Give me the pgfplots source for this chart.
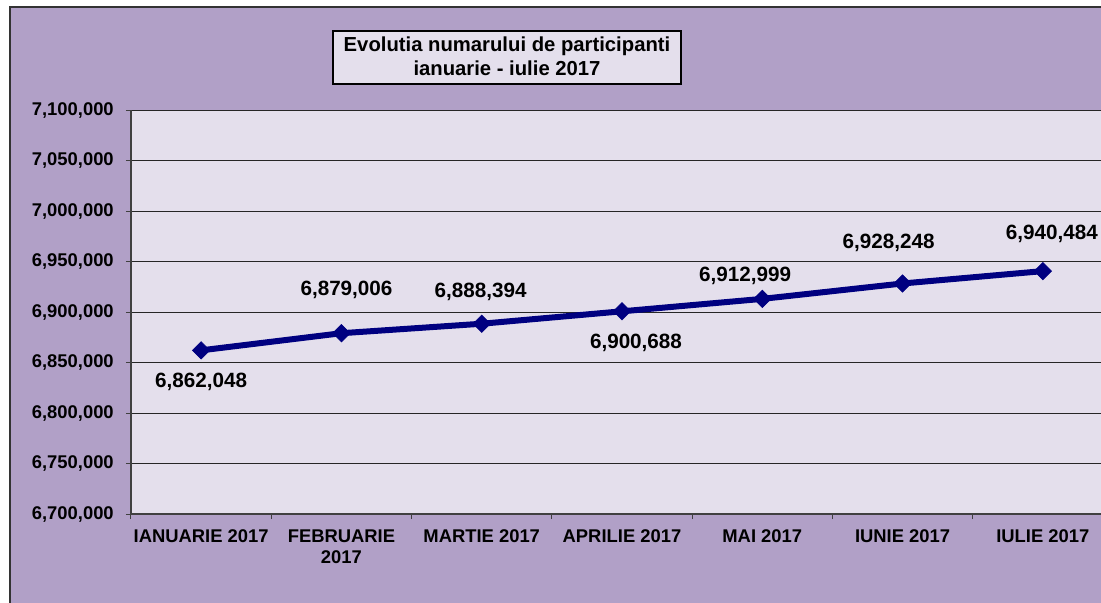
\documentclass[border=0pt]{standalone}
\usepackage{pgfplots}
\usepackage{pgfplotstable}
\pgfplotsset{compat=1.18}
\usepackage{fontspec}
\setmainfont{Liberation Sans}
\definecolor{outerbg}{HTML}{B1A0C7}
\definecolor{plotbg}{HTML}{E4DFEC}
\definecolor{navyline}{HTML}{000080}

\pgfplotstableread{
x y lab dx dy
0 6862048 6,862,048 0 -23.6
1 6879006 6,879,006 3.8 32.3
2 6888394 6,888,394 -0.8 24
3 6900688 6,900,688 10.5 -24
4 6912999 6,912,999 -12.8 17.3
5 6928248 6,928,248 -10.5 30.8
6 6940484 6,940,484 6.8 27.8
}\datatable

\begin{document}
\begin{tikzpicture}
\useasboundingbox (0,0) rectangle (825.75pt,-452.25pt);
\clip (0,0) rectangle (825.75pt,-452.25pt);
\fill[white] (0,0) rectangle (825.75pt,-452.25pt);
\filldraw[fill=outerbg, draw=black!80, line width=1.2pt] (7.5pt,-5.25pt) rectangle (900pt,-500pt);
\begin{axis}[
  at={(98.25pt,-385.5pt)}, anchor=south west,
  scale only axis, width=736.5pt, height=303pt,
  xmin=-0.5, xmax=6.5, ymin=6700000, ymax=7100000,
  axis background/.style={fill=plotbg},
  axis x line*=bottom, axis y line*=left,
  axis line style={-, black!75, line width=1pt},
  xtick={-0.5,0.5,1.5,2.5,3.5,4.5,5.5,6.5},
  x tick label as interval,
  xticklabels={IANUARIE 2017, {FEBRUARIE\\2017}, MARTIE 2017, APRILIE 2017, MAI 2017, IUNIE 2017, IULIE 2017},
  ytick={6700000,6750000,6800000,6850000,6900000,6950000,7000000,7050000,7100000},
  scaled y ticks=false,
  ymajorgrids, xmajorgrids=false,
  grid style={black!85, line width=0.75pt},
  tick align=outside,
  major tick length=3.75pt,
  tick style={black!75, line width=0.75pt},
  yticklabel style={font=\bfseries\fontsize{13.8}{16}\selectfont, anchor=east, inner sep=0pt, xshift=-9pt},
  xticklabel style={font=\bfseries\fontsize{13.8}{15.75}\selectfont, align=center, anchor=north, inner sep=0pt, yshift=-8pt},
  /pgf/number format/.cd, fixed, precision=0, 1000 sep={,}, assume math mode=true,
]
\addplot[navyline, line width=4.5pt, mark=square*, mark size=4.6pt,
  mark options={rotate=45, line width=0.5pt, solid},
  point meta=explicit symbolic,
  nodes near coords,
  visualization depends on={\thisrow{dx} \as \dx},
  visualization depends on={\thisrow{dy} \as \dy},
  every node near coord/.append style={anchor=center, xshift=\dx pt, yshift=\dy pt,
    font=\bfseries\fontsize{15.5}{18}\selectfont, text=black, inner sep=0pt}
] table[x=x, y=y, meta=lab] {\datatable};
\end{axis}
\draw[fill=plotbg, draw=black, line width=0.9pt] (249.75pt,-23.25pt) rectangle (510.75pt,-63pt);
\node[anchor=base, font=\bfseries\fontsize{15.2}{18}\selectfont, inner sep=0pt] at (380.25pt,-38.8pt) {Evolutia numarului de participanti};
\node[anchor=base, font=\bfseries\fontsize{15.2}{18}\selectfont, inner sep=0pt] at (380.25pt,-56.25pt) {ianuarie - iulie 2017};
\end{tikzpicture}
\end{document}
